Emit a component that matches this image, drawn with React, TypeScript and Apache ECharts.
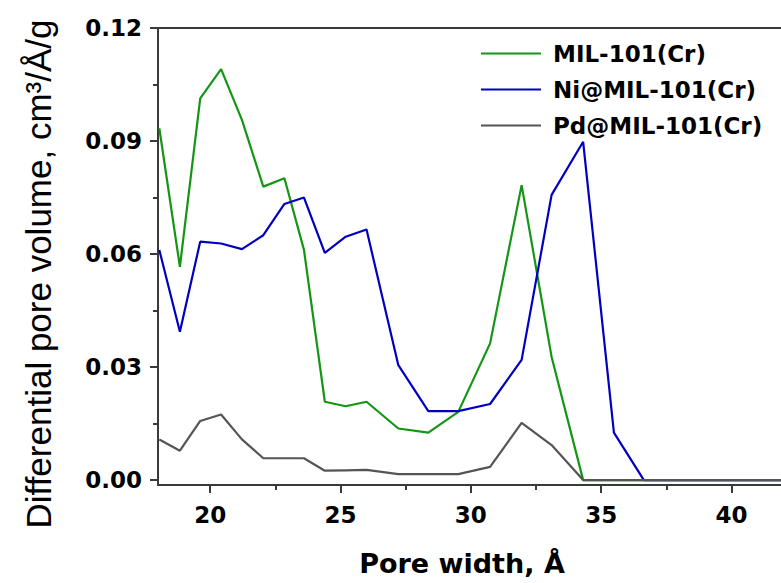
import React, { useEffect, useRef } from "react";
import * as echarts from "echarts";

const poreWidth = [18.05, 18.84, 19.62, 20.42, 21.22, 22.04, 22.85, 23.6, 24.4, 25.2, 26.0, 27.22, 28.37, 29.52, 30.74, 31.95, 33.1, 34.31, 35.49, 36.64, 38.5, 40.5, 42];
const milCr = [0.0934, 0.0566, 0.1013, 0.1091, 0.0956, 0.0779, 0.0801, 0.0611, 0.0208, 0.0196, 0.0208, 0.0137, 0.0126, 0.0181, 0.0363, 0.0783, 0.0327, 0, 0, 0, 0, 0, 0];
const niMilCr = [0.0611, 0.0394, 0.0633, 0.0628, 0.0613, 0.065, 0.0733, 0.075, 0.0603, 0.0646, 0.0665, 0.0305, 0.0183, 0.0183, 0.0202, 0.0319, 0.0757, 0.0898, 0.0126, 0, 0, 0, 0];
const pdMilCr = [0.0108, 0.0078, 0.0157, 0.0174, 0.0108, 0.0058, 0.0058, 0.0058, 0.0025, 0.0026, 0.0027, 0.0016, 0.0016, 0.0016, 0.0035, 0.0152, 0.0093, 0, 0, 0, 0, 0, 0];

const seriesNames = ["MIL-101(Cr)", "Ni@MIL-101(Cr)", "Pd@MIL-101(Cr)"];
const seriesColors = ["#149614", "#0000c0", "#555555"];

const xMajorTicks = [20, 25, 30, 35, 40];
const xMinorTicks = [22.5, 27.5, 32.5, 37.5];
const yMajorTicks = [0, 0.03, 0.06, 0.09, 0.12];
const yMinorTicks = [0.015, 0.045, 0.075, 0.105];

const xTitle = "Pore width, Å";
const yTitle = "Differential pore volume, cm³/Å/g";

export default function App() {
  const ref = useRef<HTMLDivElement>(null);
  useEffect(() => {
    if (!ref.current) return;
    const chart = echarts.init(ref.current, undefined, { renderer: "svg" });
    const axisColor = "#3a3a3a";
    const tickFont = { fontFamily: "DejaVu Sans", fontWeight: "bold" as const, fontSize: 23, color: "#000" };
    const xRange = { min: 18, max: 41.9 };
    const yRange = { min: -0.0013, max: 0.12 };
    const allSeries = [milCr, niMilCr, pdMilCr];
    chart.setOption({
      animation: false,
      backgroundColor: "#fff",
      grid: { left: 158, top: 28, right: 0, bottom: 98, containLabel: false },
      legend: {
        orient: "vertical",
        left: 476,
        top: 37,
        icon: "rect",
        itemWidth: 60,
        itemHeight: 2,
        itemGap: 13,
        data: seriesNames,
        textStyle: { fontFamily: "DejaVu Sans", fontWeight: "bold", fontSize: 23, color: "#000", padding: [0, 0, 0, 7] },
      },
      xAxis: [
        {
          type: "value", ...xRange, position: "bottom",
          axisLine: { show: true, onZero: false, lineStyle: { color: axisColor, width: 2 } },
          axisTick: { show: true, inside: false, length: 8, customValues: xMajorTicks, lineStyle: { color: axisColor, width: 2 } },
          axisLabel: { show: true, customValues: xMajorTicks, margin: 18, ...tickFont },
          splitLine: { show: false },
        },
        {
          type: "value", ...xRange, position: "bottom",
          axisLine: { show: false, onZero: false },
          axisTick: { show: true, inside: false, length: 5, customValues: xMinorTicks, lineStyle: { color: axisColor, width: 2 } },
          axisLabel: { show: false },
          splitLine: { show: false },
        },
        {
          type: "value", ...xRange, position: "top",
          axisLine: { show: true, onZero: false, lineStyle: { color: axisColor, width: 2 } },
          axisTick: { show: false },
          axisLabel: { show: false },
          splitLine: { show: false },
        },
      ],
      yAxis: [
        {
          type: "value", ...yRange, position: "left",
          axisLine: { show: true, onZero: false, lineStyle: { color: axisColor, width: 2 } },
          axisTick: { show: true, inside: false, length: 8, customValues: yMajorTicks, lineStyle: { color: axisColor, width: 2 } },
          axisLabel: { show: true, customValues: yMajorTicks, margin: 16, formatter: (v: number) => v.toFixed(2), ...tickFont },
          splitLine: { show: false },
        },
        {
          type: "value", ...yRange, position: "left",
          axisLine: { show: false, onZero: false },
          axisTick: { show: true, inside: false, length: 5, customValues: yMinorTicks, lineStyle: { color: axisColor, width: 2 } },
          axisLabel: { show: false },
          splitLine: { show: false },
        },
      ],
      series: seriesNames.map((name, i) => ({
        name,
        type: "line",
        xAxisIndex: 0,
        yAxisIndex: 0,
        symbol: "none",
        clip: true,
        color: seriesColors[i],
        itemStyle: { color: seriesColors[i] },
        lineStyle: { color: seriesColors[i], width: 2.2 },
        data: poreWidth.map((x, j) => [x, allSeries[i][j]]),
      })),
      graphic: [
        {
          type: "text",
          x: 462,
          y: 563,
          style: { text: xTitle, fontFamily: "DejaVu Sans", fontWeight: "bold", fontSize: 27, fill: "#000", align: "center", verticalAlign: "middle" },
        },
        {
          type: "text",
          x: 38,
          y: 274,
          rotation: Math.PI / 2,
          style: { text: yTitle, fontFamily: "Liberation Sans", fontSize: 35, fill: "#000", align: "center", verticalAlign: "middle" },
        },
      ],
    });
    return () => chart.dispose();
  }, []);
  return <div ref={ref} style={{ position: "fixed", left: 0, top: 0, width: 781, height: 583 }} />;
}
